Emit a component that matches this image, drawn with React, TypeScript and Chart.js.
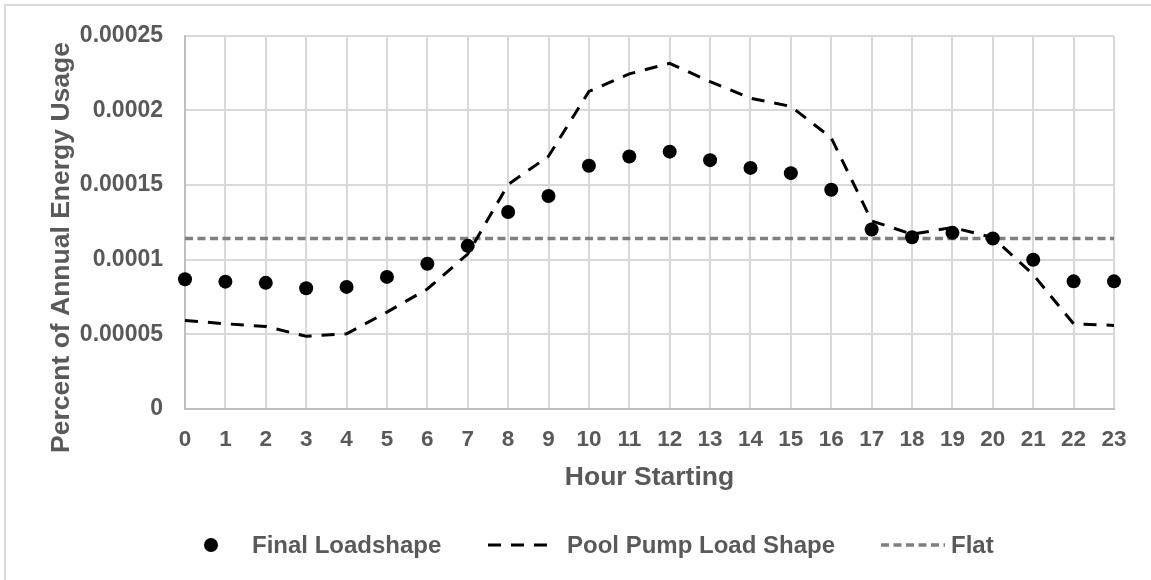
import React, { useEffect, useRef } from 'react';
import { Chart, registerables } from 'chart.js';

Chart.register(...registerables);

const hours = ['0', '1', '2', '3', '4', '5', '6', '7', '8', '9', '10', '11', '12', '13', '14', '15', '16', '17', '18', '19', '20', '21', '22', '23'];

const finalLoadshape = [
  0.0000869, 0.0000853, 0.0000845, 0.0000809, 0.0000818, 0.0000885, 0.0000973, 0.0001093,
  0.000132, 0.0001427, 0.0001629, 0.0001691, 0.0001724, 0.0001667, 0.0001615, 0.000158,
  0.0001469, 0.0001202, 0.0001151, 0.000118, 0.0001142, 0.0001, 0.0000855, 0.0000855,
];

const poolPumpLoadShape = [
  0.0000593, 0.0000571, 0.0000553, 0.0000487, 0.0000504, 0.0000649, 0.0000804, 0.0001038,
  0.0001504, 0.0001693, 0.0002127, 0.0002245, 0.0002316, 0.0002193, 0.0002082, 0.0002027,
  0.0001816, 0.000126, 0.0001171, 0.0001216, 0.0001149, 0.00009, 0.0000571, 0.000056,
];

const flat = [
  0.0001142, 0.0001142, 0.0001142, 0.0001142, 0.0001142, 0.0001142, 0.0001142, 0.0001142,
  0.0001142, 0.0001142, 0.0001142, 0.0001142, 0.0001142, 0.0001142, 0.0001142, 0.0001142,
  0.0001142, 0.0001142, 0.0001142, 0.0001142, 0.0001142, 0.0001142, 0.0001142, 0.0001142,
];

const seriesNames = ['Final Loadshape', 'Pool Pump Load Shape', 'Flat'];
const yTickValues = [0, 0.00005, 0.0001, 0.00015, 0.0002, 0.00025];
const yTickLabels = ['0', '0.00005', '0.0001', '0.00015', '0.0002', '0.00025'];
const xAxisTitle = 'Hour Starting';
const yAxisTitle = 'Percent of Annual Energy Usage';

const FONT = "'Liberation Sans', Arial, sans-serif";
const TEXT = '#595959';

const decorPlugin = {
  id: 'decor',
  afterDraw(chart: any) {
    const ctx = chart.ctx;
    const area = chart.chartArea;
    const ds = chart.data.datasets;
    ctx.save();
    ctx.fillStyle = TEXT;
    // axis titles
    ctx.font = `bold 26.5px ${FONT}`;
    ctx.textAlign = 'center';
    ctx.textBaseline = 'alphabetic';
    ctx.fillText(xAxisTitle, (area.left + area.right) / 2, 485);
    ctx.save();
    ctx.translate(69, 247.5);
    ctx.rotate(-Math.PI / 2);
    ctx.fillText(yAxisTitle, 0, 0);
    ctx.restore();

    // legend
    const ly = 545;
    ctx.font = `bold 24px ${FONT}`;
    ctx.textAlign = 'left';
    ctx.textBaseline = 'middle';
    ctx.fillStyle = ds[0].backgroundColor;
    ctx.beginPath();
    ctx.arc(211, ly, 7, 0, Math.PI * 2);
    ctx.fill();
    ctx.fillStyle = TEXT;
    ctx.fillText(ds[0].label, 252, ly + 1);
    ctx.strokeStyle = ds[1].borderColor;
    ctx.lineWidth = ds[1].borderWidth;
    ctx.setLineDash(ds[1].borderDash);
    ctx.beginPath();
    ctx.moveTo(488, ly);
    ctx.lineTo(557, ly);
    ctx.stroke();
    ctx.fillText(ds[1].label, 567, ly + 1);
    ctx.strokeStyle = ds[2].borderColor;
    ctx.lineWidth = ds[2].borderWidth;
    ctx.setLineDash(ds[2].borderDash);
    ctx.beginPath();
    ctx.moveTo(881, ly);
    ctx.lineTo(945, ly);
    ctx.stroke();
    ctx.setLineDash([]);
    ctx.fillText(ds[2].label, 951, ly + 1);
    ctx.restore();
  },
};

export default function App() {
  const ref = useRef<HTMLCanvasElement>(null);
  useEffect(() => {
    if (!ref.current) return;
    const chart = new Chart(ref.current, {
      type: 'line',
      data: {
        labels: hours,
        datasets: [
          {
            label: seriesNames[0],
            data: finalLoadshape,
            showLine: false,
            pointRadius: 7,
            pointHoverRadius: 7,
            pointBorderWidth: 0,
            backgroundColor: '#000000',
            borderColor: '#000000',
            clip: false as any,
          },
          {
            label: seriesNames[1],
            data: poolPumpLoadShape,
            borderColor: '#000000',
            backgroundColor: '#000000',
            borderWidth: 3,
            borderDash: [13, 10],
            pointRadius: 0,
            tension: 0,
          },
          {
            label: seriesNames[2],
            data: flat,
            borderColor: '#7f7f7f',
            backgroundColor: '#7f7f7f',
            borderWidth: 3.5,
            borderDash: [8, 4.5],
            pointRadius: 0,
            tension: 0,
          },
        ],
      },
      options: {
        animation: false,
        responsive: false,
        devicePixelRatio: 1,
        layout: { padding: { top: 34, right: 37, left: 0, bottom: 0 } },
        plugins: { legend: { display: false }, title: { display: false }, tooltip: { enabled: false } },
        scales: {
          x: {
            type: 'category',
            offset: false,
            grid: { color: '#d9d9d9', lineWidth: 2, drawTicks: false, offset: false },
            border: { color: '#bfbfbf', width: 2 },
            ticks: {
              color: TEXT,
              font: { family: FONT, size: 22.5, weight: 'bold' },
              padding: 17,
              autoSkip: false,
              maxRotation: 0,
              minRotation: 0,
            },
            afterFit: (s: any) => { s.height = 171; },
          },
          y: {
            min: 0,
            max: 0.00025,
            grid: { color: '#d9d9d9', lineWidth: 2, drawTicks: false },
            border: { color: '#bfbfbf', width: 2 },
            afterBuildTicks: (s: any) => { s.ticks = yTickValues.map((v) => ({ value: v })); },
            ticks: {
              color: TEXT,
              font: { family: FONT, size: 23, weight: 'bold' },
              padding: 22,
              callback: (_v: any, i: number) => yTickLabels[i],
            },
            afterFit: (s: any) => { s.width = 185; },
          },
        },
      },
      plugins: [decorPlugin],
    });
    return () => chart.destroy();
  }, []);

  return (
    <div style={{ position: 'fixed', left: 0, top: 0, width: 1151, height: 580, overflow: 'hidden', background: '#ffffff' }}>
      <div style={{ position: 'absolute', left: 4, top: 4, width: 1300, height: 700, border: '2px solid #d9d9d9', boxSizing: 'border-box' }} />
      <canvas ref={ref} width={1151} height={580} style={{ position: 'absolute', left: 0, top: 0, display: 'block' }} />
    </div>
  );
}
